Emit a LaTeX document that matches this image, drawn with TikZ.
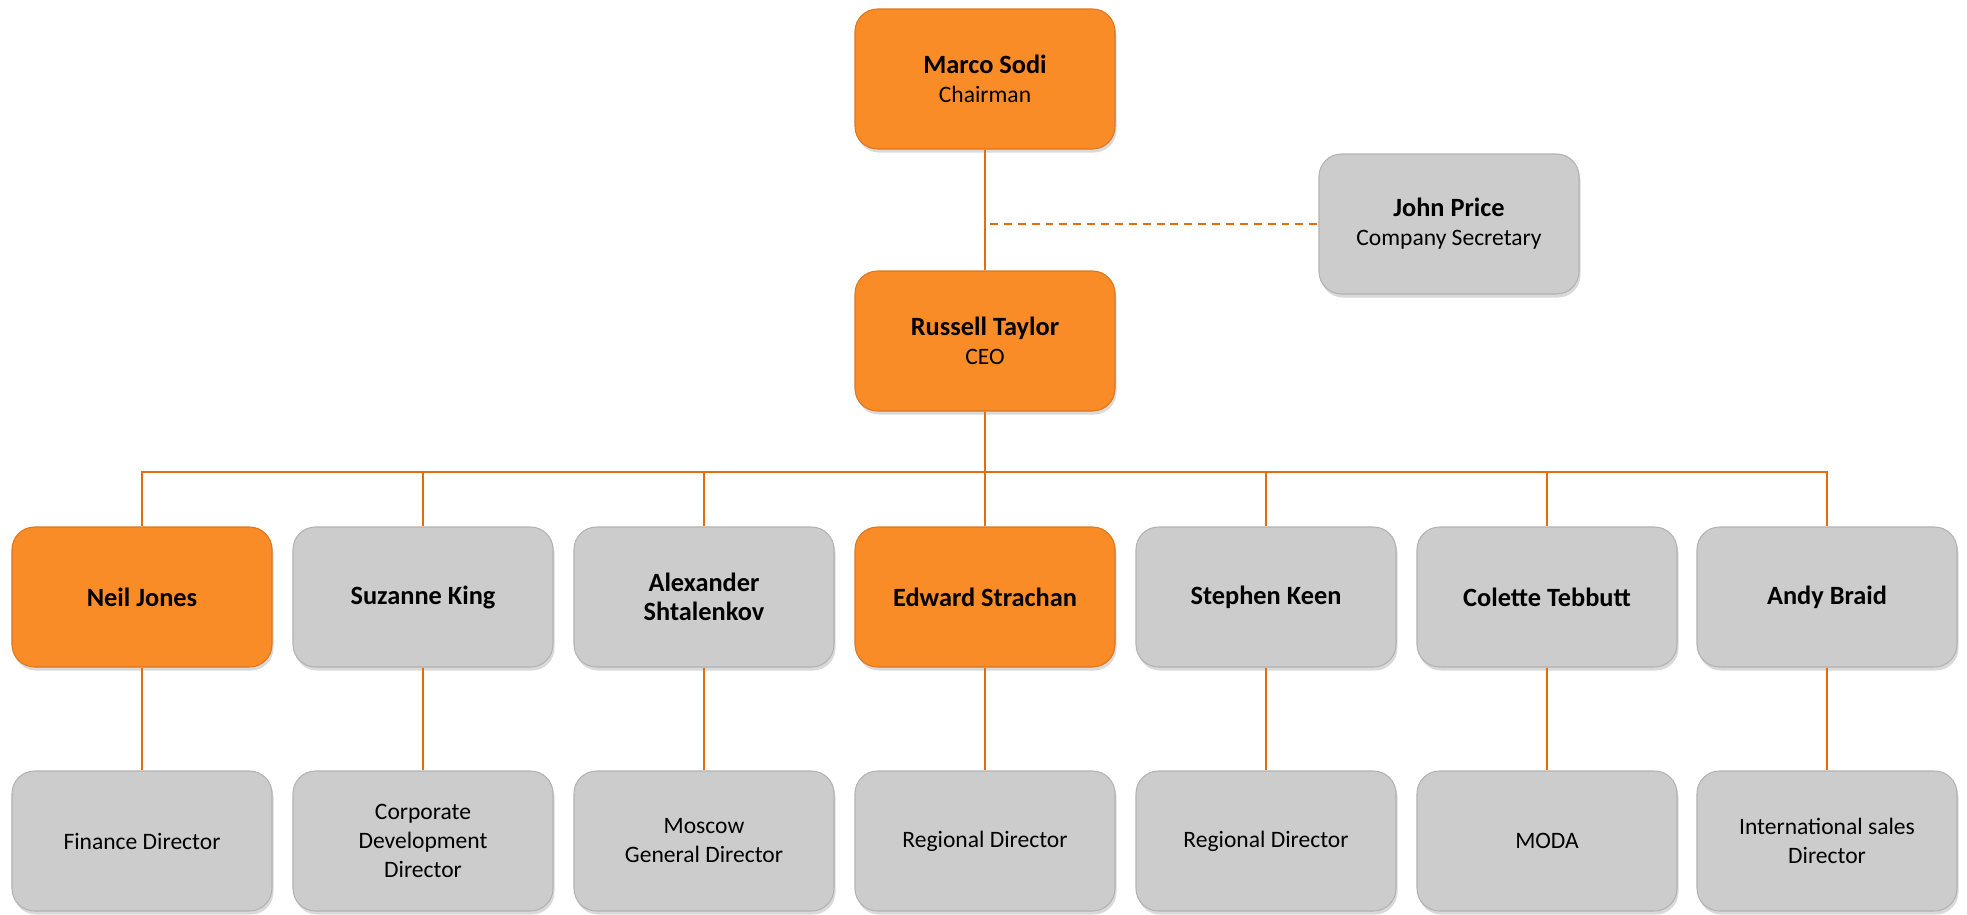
\documentclass[tikz,border=0pt]{standalone}
\usepackage{fontspec}
\setmainfont{Carlito}
\usetikzlibrary{positioning,shadows}
\definecolor{boxorange}{RGB}{250,140,40}
\definecolor{edgeorange}{RGB}{222,118,28}
\definecolor{boxgray}{RGB}{204,204,204}
\definecolor{edgegray}{RGB}{178,178,178}
\definecolor{lineorange}{RGB}{228,108,10}
\newcommand{\namefont}{\fontsize{15}{16.5}\selectfont\bfseries}
\newcommand{\rolefont}{\fontsize{13.4}{16.5}\selectfont}
\tikzset{
  person/.style={draw=edgegray,fill=boxgray,rounded corners=4.5mm,minimum width=5.2cm,minimum height=2.8cm,
    align=center,inner sep=3pt,font=\rolefont,line width=0.6pt,
    drop shadow={shadow xshift=0.03cm,shadow yshift=-0.07cm,opacity=0.3}},
  personhl/.style={person,draw=edgeorange,fill=boxorange},
  lead/.style={person,font=\namefont},
  leadhl/.style={personhl,font=\namefont},
  link/.style={draw=lineorange,line width=1.5pt},
  linkdash/.style={draw=lineorange,line width=1.1pt,dash pattern=on 4.5pt off 3.4pt}
}

\begin{document}
\begin{tikzpicture}
  \useasboundingbox (0,0) rectangle (39.34,-18.30);
  % board
  \node[personhl] (sodi) at (19.70,-1.58) {{\namefont Marco Sodi}\\Chairman};
  \node[person] (price) at (28.98,-4.48) {{\namefont John Price}\\Company Secretary};
  \node[personhl] (taylor) at (19.70,-6.82) {{\namefont Russell Taylor}\\CEO};

  % directors
  \node[leadhl] (jones) at (2.84,-11.94) {Neil Jones};
  \node[lead] (king) at (8.46,-11.94) {Suzanne King};
  \node[lead] (shtalenkov) at (14.08,-11.94) {Alexander\\Shtalenkov};
  \node[leadhl] (strachan) at (19.70,-11.94) {Edward Strachan};
  \node[lead] (keen) at (25.32,-11.94) {Stephen Keen};
  \node[lead] (tebbutt) at (30.94,-11.94) {Colette Tebbutt};
  \node[lead] (braid) at (36.54,-11.94) {Andy Braid};

  % roles
  \node[person] (jonesrole) at (2.84,-16.82) {Finance Director};
  \node[person] (kingrole) at (8.46,-16.82) {Corporate\\Development\\Director};
  \node[person] (shtalenkovrole) at (14.08,-16.82) {Moscow\\General Director};
  \node[person] (strachanrole) at (19.70,-16.82) {Regional Director};
  \node[person] (keenrole) at (25.32,-16.82) {Regional Director};
  \node[person] (tebbuttrole) at (30.94,-16.82) {MODA};
  \node[person] (braidrole) at (36.54,-16.82) {International sales\\Director};

  % lines
  \coordinate (sec) at ([xshift=0.1cm]sodi.south |- price.west);
  \coordinate (bus) at (19.70,-9.44);
  \draw[link] (sodi) -- (taylor);
  \draw[linkdash] (sec) -- (price.west);
  \foreach \n in {jones,king,shtalenkov,strachan,keen,tebbutt,braid}{
    \draw[link] (taylor.south) |- (bus -| \n.north) -- (\n.north);
    \draw[link] (\n.south) -- (\n role.north);
  }
\end{tikzpicture}
\end{document}
